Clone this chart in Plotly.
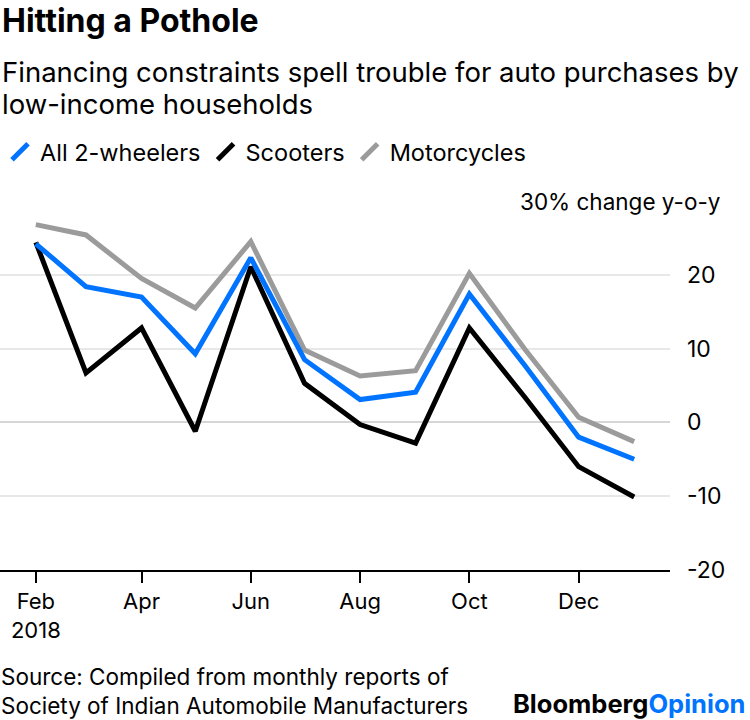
import plotly.graph_objects as go

months = ["2018-02-01", "2018-03-01", "2018-04-01", "2018-05-01", "2018-06-01", "2018-07-01",
          "2018-08-01", "2018-09-01", "2018-10-01", "2018-11-01", "2018-12-01", "2019-01-01"]
all_2w = [24.2, 18.4, 17.0, 9.3, 22.3, 8.5, 3.1, 4.1, 17.4, 7.7, -2.0, -5.0]
scooters = [24.4, 6.7, 12.8, -1.2, 21.1, 5.3, -0.3, -2.8, 12.8, 3.4, -6.0, -10.1]
motorcycles = [26.8, 25.4, 19.5, 15.5, 24.5, 9.8, 6.3, 7.0, 20.2, 9.9, 0.7, -2.6]

series_names = ["All 2-wheelers", "Scooters", "Motorcycles"]
series_vals = [all_2w, scooters, motorcycles]
colors = ["#0073FF", "#000000", "#9B9B9B"]

x_tickvals = ["2018-02-01", "2018-04-01", "2018-06-01", "2018-08-01", "2018-10-01", "2018-12-01"]
x_ticktext = ["Feb<br>2018", "Apr", "Jun", "Aug", "Oct", "Dec"]
y_tickvals = [-20, -10, 0, 10, 20, 30]
y_ticktext = ["-20", "-10", "0", "10", "20", ""]

FONT = "Inter"

fig = go.Figure()
# draw in reverse order so that blue is on top of grey
for name, vals, col in reversed(list(zip(series_names, series_vals, colors))):
    fig.add_trace(go.Scatter(x=months, y=vals, mode="lines", name=name,
                             line=dict(color=col, width=5), showlegend=False,
                             hoverinfo="skip"))
# legend entries with slash-like icons
for name, col in zip(series_names, colors):
    fig.add_trace(go.Scatter(x=[None], y=[None], mode="markers", name=name,
                             marker=dict(symbol="line-ne", size=17,
                                         line=dict(color=col, width=5)),
                             showlegend=True))

def note(text, x, y, size, xanchor="left", bold=False, **kw):
    return dict(text=(f"<b>{text}</b>" if bold else text), x=x, y=y, xref="paper", yref="paper",
                xanchor=xanchor, yanchor="middle", showarrow=False, align="left",
                font=dict(size=size, family=FONT, color="#000000"), **kw)

fig.update_layout(
    width=750, height=720,
    margin=dict(l=0, r=80, t=201, b=150),
    paper_bgcolor="white", plot_bgcolor="white",
    font=dict(family=FONT, size=23, color="#000000"),
    showlegend=True,
    legend=dict(orientation="h", x=0, xanchor="left", y=1.1328, yanchor="middle",
                font=dict(size=23.5, family=FONT), itemwidth=30, tracegroupgap=0,
                itemclick=False, traceorder="normal"),
    xaxis=dict(type="date", range=["2018-01-12", "2019-01-21"],
               tickvals=x_tickvals, ticktext=x_ticktext,
               ticks="outside", ticklen=11, tickwidth=1.5, tickcolor="#000000",
               showgrid=False, showline=True, linecolor="#000000", linewidth=2,
               zeroline=False, tickfont=dict(size=22, family=FONT)),
    yaxis=dict(side="right", range=[-20, 30], tickvals=y_tickvals, ticktext=y_ticktext,
               showgrid=True, gridcolor="#E8E8E8", gridwidth=2,
               zeroline=True, zerolinecolor="#D6D6D6", zerolinewidth=2,
               showline=False, ticks="", ticklabelstandoff=16,
               tickfont=dict(size=23, family=FONT)),
    annotations=[
        note("Hitting a Pothole", 0, 1.4905, 32, bold=True),
        note("Financing constraints spell trouble for auto purchases by", 0, (570 - 72) / 369, 27.5),
        note("low-income households", 0, (570 - 104) / 369, 27.5),
        dict(text="30% change y-o-y", x=1.092, y=30, xref="paper", yref="y",
             xanchor="right", yanchor="middle", showarrow=False, bgcolor="white",
             borderpad=10, font=dict(size=22.5, family=FONT, color="#000000")),
        note("Source: Compiled from monthly reports of<br>Society of Indian Automobile Manufacturers",
             0, (570 - 691) / 369, 22.5, borderpad=0),
        note("Bloomberg<span style='color:#0073FF'>Opinion</span>", 747 / 670, (570 - 703) / 369,
             25.5, xanchor="right", bold=True),
    ],
)

fig.write_html("out.html", post_script="document.body.style.margin='0';",
               config={"displayModeBar": False})
